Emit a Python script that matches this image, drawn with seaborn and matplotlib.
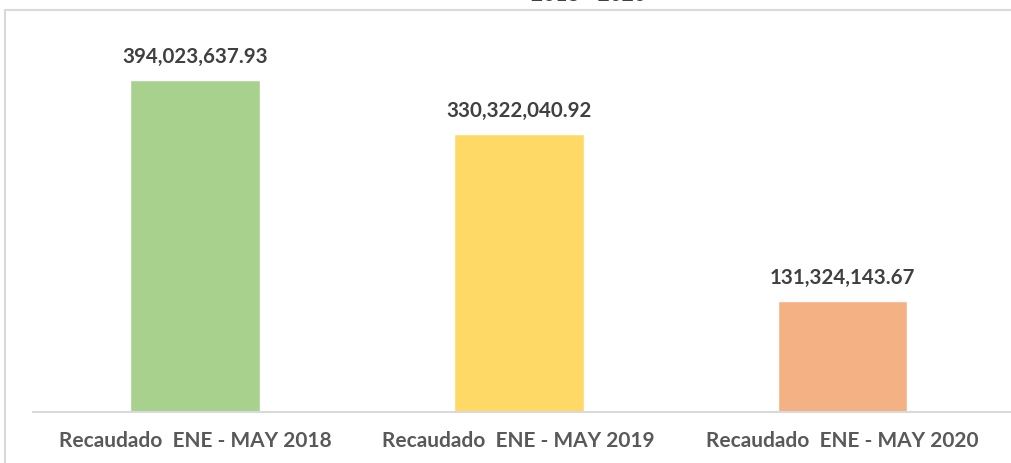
import matplotlib
matplotlib.use("Agg")
import matplotlib.pyplot as plt
import seaborn as sns
import pandas as pd
from matplotlib.patches import Rectangle

categories = ["Recaudado  ENE - MAY 2018", "Recaudado  ENE - MAY 2019", "Recaudado  ENE - MAY 2020"]
values = [394023637.93, 330322040.92, 131324143.67]
colors = ["#A9D18E", "#FFD966", "#F4B183"]
title = "2018 - 2020"

df = pd.DataFrame({"cat": categories, "val": values})

sns.set_theme(style="white")
plt.rcParams["font.family"] = ["Lato", "DejaVu Sans"]

W, H = 1011, 463
fig = plt.figure(figsize=(W / 100, H / 100), dpi=100)

# chart frame, cut off on the right and bottom like the screenshot
fig.patches.append(Rectangle((5 / W, -0.1), 1.2, (H - 10) / H + 0.1, transform=fig.transFigure,
                             fill=False, edgecolor="#D9D9D9", linewidth=1.5))
# title sits mostly above the screenshot's top edge
fig.text(588 / W, 1 - 5 / H, title, ha="center", va="bottom", fontsize=15,
         fontweight="bold", color="#404040")

ax = fig.add_axes([33 / W, (H - 412) / H, (1011 - 33) / W, (412 - 20) / H])
sns.barplot(data=df, x="cat", y="val", hue="cat", palette=colors, width=0.4,
            legend=False, ax=ax, saturation=1)
ax.set_xlim(-0.5, 2.52)
ax.set_ylim(0, 392 * 1.1875e6)

for i, v in enumerate(values):
    ax.annotate(f"{v:,.2f}", (i, v), xytext=(0, 23), textcoords="offset pixels",
                ha="center", va="center", fontsize=14.8, fontweight="bold", color="#404040")

for s in ["top", "right", "left"]:
    ax.spines[s].set_visible(False)
ax.spines["bottom"].set_color("#D9D9D9")
ax.spines["bottom"].set_linewidth(1.5)
ax.set_yticks([])
ax.set_xlabel("")
ax.set_ylabel("")
ax.tick_params(axis="x", length=0, pad=14, labelsize=15, labelcolor="#595959")
for t in ax.get_xticklabels():
    t.set_fontweight("bold")

fig.savefig("out.png", dpi=100)
